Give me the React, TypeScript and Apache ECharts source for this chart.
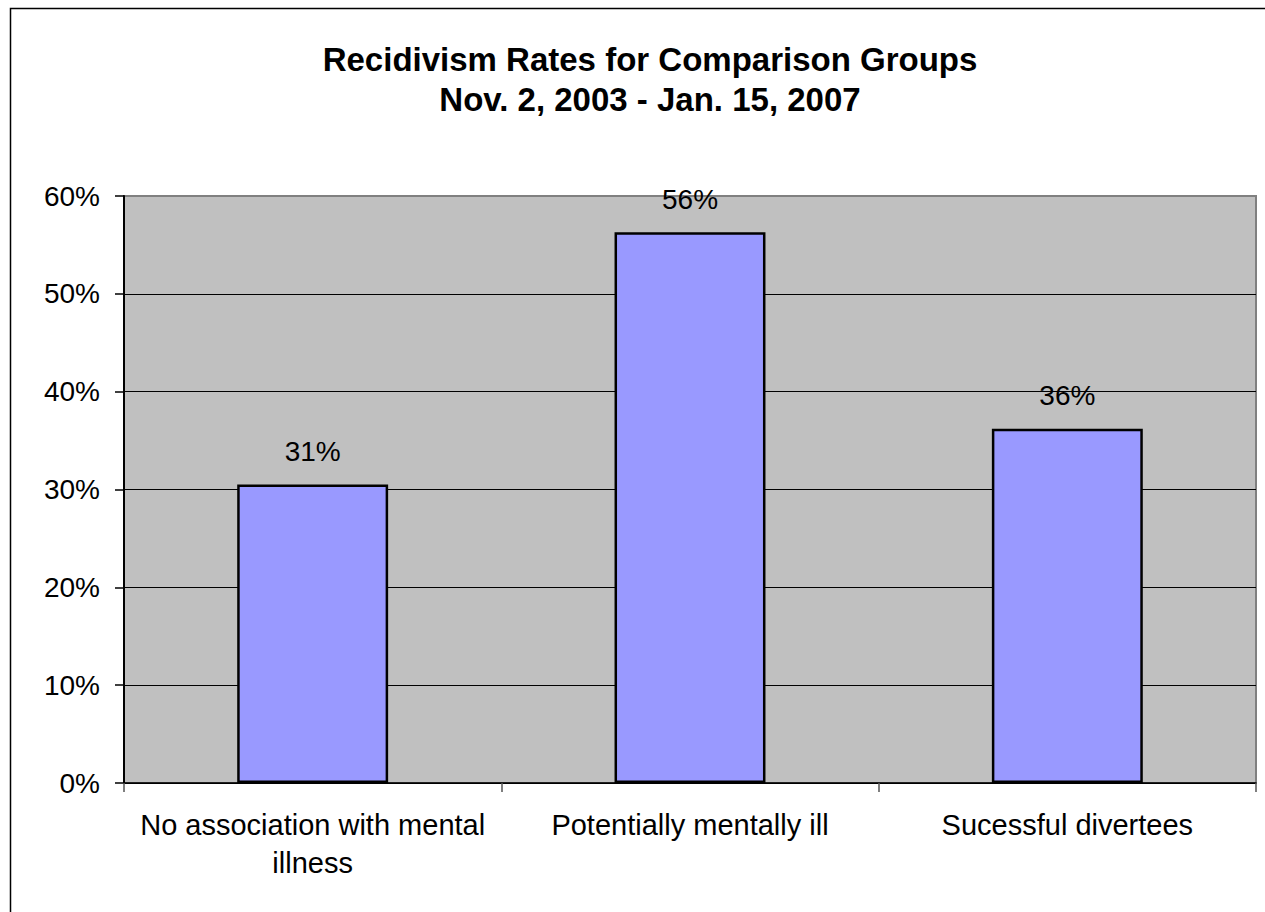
import React, { useEffect, useRef } from "react";
import * as echarts from "echarts";

const titleLines = ["Recidivism Rates for Comparison Groups", "Nov. 2, 2003 - Jan. 15, 2007"];
const categories = ["No association with mental\nillness", "Potentially mentally ill", "Sucessful divertees"];
const rates = [0.305, 0.563, 0.362];
const yTicks = [0, 0.1, 0.2, 0.3, 0.4, 0.5, 0.6];

const FONT = "'Liberation Sans', Arial, Helvetica, sans-serif";

export default function App() {
  const ref = useRef<HTMLDivElement>(null);
  useEffect(() => {
    document.body.style.margin = "0";
    const chart = echarts.init(ref.current!, null, { renderer: "svg" });
    const gridColors = yTicks.map((t, i) => (i === yTicks.length - 1 ? "#808080" : "#000000"));
    chart.setOption({
      animation: false,
      backgroundColor: "#ffffff",
      title: {
        text: titleLines.join("\n"),
        left: 645,
        top: 34,
        textAlign: "center",
        textStyle: {
          fontFamily: FONT,
          fontWeight: "bold",
          fontSize: 33,
          lineHeight: 40,
          color: "#000",
        },
      },
      graphic: [
        {
          type: "rect",
          shape: { x: 10.5, y: 8.5, width: 1400, height: 1100 },
          style: { fill: "none", stroke: "#000", lineWidth: 1.5 },
          silent: true,
        },
      ],
      grid: {
        left: 124,
        top: 196,
        width: 1132,
        height: 587,
        show: true,
        backgroundColor: "#C0C0C0",
        borderColor: "#808080",
        borderWidth: 2,
        outerBoundsMode: "none",
      },
      xAxis: {
        type: "category",
        data: categories,
        boundaryGap: true,
        axisLine: { show: true, lineStyle: { color: "#000", width: 1.5 } },
        axisTick: { show: true, length: 9, inside: false, lineStyle: { color: "#555", width: 1.5 } },
        axisLabel: {
          margin: 23,
          fontFamily: FONT,
          fontSize: 29,
          lineHeight: 38,
          color: "#000",
          interval: 0,
          align: "center",
        },
        splitLine: { show: false },
      },
      yAxis: {
        type: "value",
        min: 0,
        max: 0.6,
        interval: 0.1,
        axisLine: { show: true, lineStyle: { color: "#000", width: 2 } },
        axisTick: { show: true, length: 9, lineStyle: { color: "#000", width: 1.5 } },
        axisLabel: {
          margin: 24,
          fontFamily: FONT,
          fontSize: 28,
          color: "#000",
          formatter: (v: number) => Math.round(v * 100) + "%",
        },
        splitLine: { show: true, lineStyle: { color: gridColors, width: 1 } },
      },
      series: [
        {
          type: "bar",
          data: rates,
          barWidth: "40%",
          itemStyle: { color: "#9999FF", borderColor: "#000", borderWidth: 2.5 },
          label: {
            show: true,
            position: "top",
            distance: 19,
            fontFamily: FONT,
            fontSize: 28,
            color: "#000",
            formatter: (p: any) => Math.round(p.value * 100) + "%",
          },
        },
      ],
    });
    return () => chart.dispose();
  }, []);
  return <div ref={ref} style={{ width: 1265, height: 912 }} />;
}
